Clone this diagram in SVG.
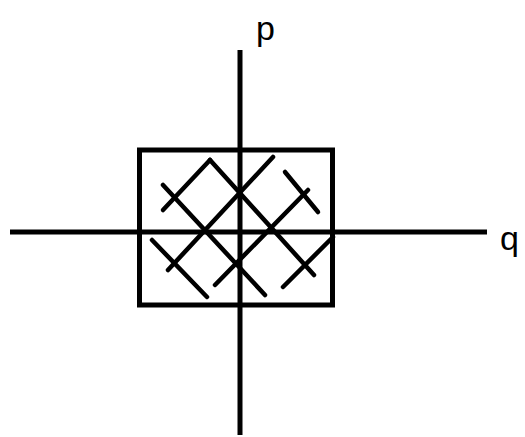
<svg xmlns="http://www.w3.org/2000/svg" width="525" height="437" viewBox="0 0 525 437">
<style>
.ln{stroke:#000;stroke-width:5;fill:none;stroke-linecap:butt}
.h{stroke:#000;stroke-width:4.5;fill:none;stroke-linecap:round}
.lbl{font-family:"Liberation Sans",Arial,sans-serif;font-size:34px;fill:#000}
</style>
<rect width="525" height="437" fill="#fff"/>
<g id="region">
<rect class="ln" x="139.5" y="150" width="193" height="155"/>
</g>
<g id="hatch">
<line class="h" x1="163" y1="210" x2="210" y2="160"/>
<line class="h" x1="168" y1="270" x2="273" y2="157"/>
<line class="h" x1="215" y1="285" x2="308" y2="190"/>
<line class="h" x1="283" y1="287" x2="333" y2="237"/>
<line class="h" x1="163" y1="185" x2="265" y2="295"/>
<line class="h" x1="210" y1="160" x2="314" y2="275"/>
<line class="h" x1="285" y1="172" x2="318" y2="212"/>
<line class="h" x1="152" y1="240" x2="207" y2="297"/>
</g>
<g id="connectors">
<line class="ln" x1="240" y1="50" x2="240" y2="435"/>
<line class="ln" x1="10" y1="232" x2="487" y2="232"/>
</g>
<g id="p"><text class="lbl" x="256" y="40">p</text></g>
<g id="q"><text class="lbl" x="500" y="250">q</text></g>
</svg>
